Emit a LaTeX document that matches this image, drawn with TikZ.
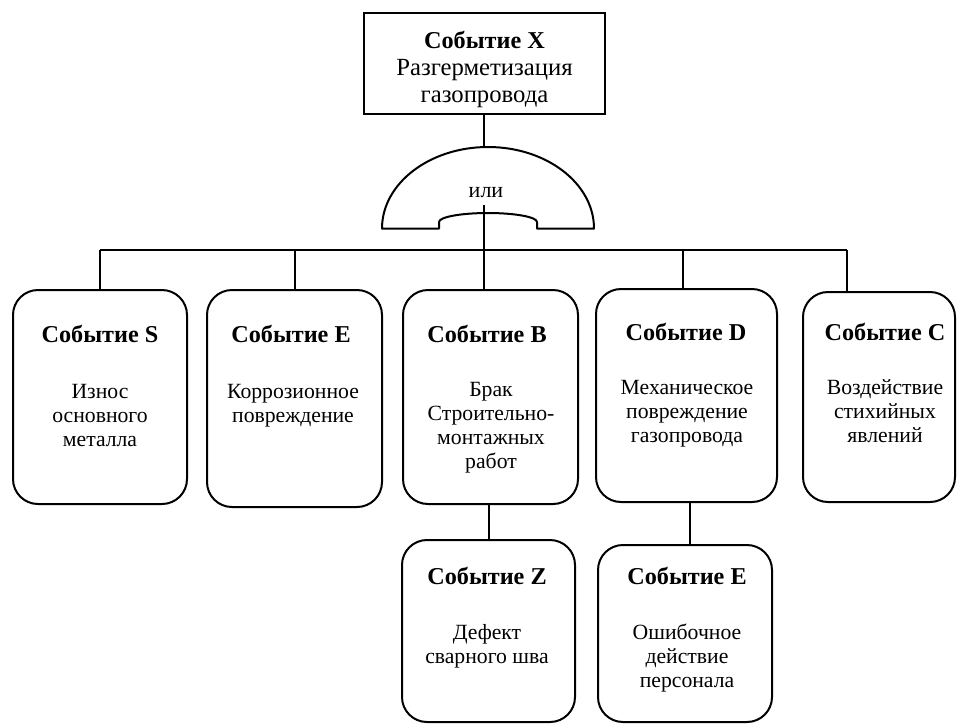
\documentclass[tikz,border=0pt]{standalone}
\usepackage{fontspec}
\setmainfont{Liberation Serif}
\begin{document}
\begin{tikzpicture}[x=1pt,y=1pt,
  ln/.style={line width=2pt},
  evbox/.style={draw, line width=2pt, rounded corners=25pt, inner sep=0pt},
  topbox/.style={draw, line width=2pt, inner sep=0pt},
  ttl/.style={font=\bfseries\fontsize{24.2}{27}\selectfont, inner sep=0pt, anchor=base},
  bodytxt/.style={font=\fontsize{21.7}{24}\selectfont, align=center, inner sep=0pt, anchor=north},
  toptxt/.style={font=\fontsize{24.7}{27}\selectfont, align=center, inner sep=0pt, anchor=north},
  gatetxt/.style={font=\fontsize{22}{26}\selectfont, inner sep=0pt}
]
\fill[white] (0,0) rectangle (961,-724);
\useasboundingbox (0,0) rectangle (961,-724);

% top event
\node[topbox, minimum width=241pt, minimum height=101pt] (X) at (484.5,-63.5) {};
\node[toptxt] (Xt) at (484.5,-29) {{\bfseries\fontsize{24.2}{27}\selectfont\strut Событие X}\\Разгерметизация\\газопровода};

% OR gate
\coordinate (gtop) at (484,-147);
\coordinate (gbot) at (484,-205);
\draw[ln, line join=round] (382,-228.5) -- (439,-228.5) -- (439,-222)
  arc[start angle=180, end angle=0, x radius=49, y radius=9]
  -- (537,-228.5) -- (594,-228.5)
  arc[start angle=0, end angle=180, x radius=106, y radius=81.5] -- cycle;
\node[gatetxt] (ili) at (486,-193) {или};
\draw[ln] (X.south -| gtop) -- (gtop);

% first row boxes
\node[evbox, minimum width=174pt, minimum height=214pt] (S) at (100,-397) {};
\node[evbox, minimum width=175pt, minimum height=217pt] (E) at (294.5,-398.5) {};
\node[evbox, minimum width=175pt, minimum height=214pt] (B) at (490.5,-397) {};
\node[evbox, minimum width=181pt, minimum height=213pt] (D) at (686.5,-395.5) {};
\node[evbox, minimum width=152pt, minimum height=210pt] (C) at (879,-397) {};

% second row boxes
\node[evbox, minimum width=173pt, minimum height=182pt] (Z) at (488.5,-631) {};
\node[evbox, minimum width=174pt, minimum height=177pt] (E2) at (685,-633.5) {};

% titles
\node[ttl] (St) at (100,-342.5) {Событие S};
\node[ttl] (Et) at (291,-342.5) {Событие E};
\node[ttl] (Bt) at (487,-342.5) {Событие B};
\node[ttl] (Dt) at (686,-340) {Событие D};
\node[ttl] (Ct) at (885,-340) {Событие C};
\node[ttl] (Zt) at (487,-584.5) {Событие Z};
\node[ttl] (E2t) at (687,-584.5) {Событие E};

% bodies
\node[bodytxt] (Sb) at (100,-381) {\strut Износ\\основного\\металла};
\node[bodytxt] (Eb) at (293,-381) {\strut Коррозионное\\повреждение};
\node[bodytxt] (Bb) at (491,-379) {\strut Брак\\Строительно-\\монтажных\\работ};
\node[bodytxt] (Db) at (687,-377) {\strut Механическое\\повреждение\\газопровода};
\node[bodytxt] (Cb) at (885,-377) {\strut Воздействие\\стихийных\\явлений};
\node[bodytxt] (Zb) at (487,-622) {\strut Дефект\\сварного шва};
\node[bodytxt] (E2b) at (687,-622) {\strut Ошибочное\\действие\\персонала};

% bus and drops
\coordinate (busL) at (100,-250);
\coordinate (busR) at (847,-250);
\coordinate (dB) at (484,-250);
\coordinate (dE) at (295,-250);
\coordinate (dD) at (683,-250);
\coordinate (dZ) at (489,-250);
\coordinate (dE2) at (690,-250);
\draw[ln] (busL) -- (busR);
\draw[ln] (busL) -- (busL |- S.north);
\draw[ln] (dE) -- (dE |- E.north);
\draw[ln] (gbot) -- (dB) -- (dB |- B.north);
\draw[ln] (dD) -- (dD |- D.north);
\draw[ln] (busR) -- (busR |- C.north);
\draw[ln] (dZ |- B.south) -- (dZ |- Z.north);
\draw[ln] (dE2 |- D.south) -- (dE2 |- E2.north);
\end{tikzpicture}
\end{document}
